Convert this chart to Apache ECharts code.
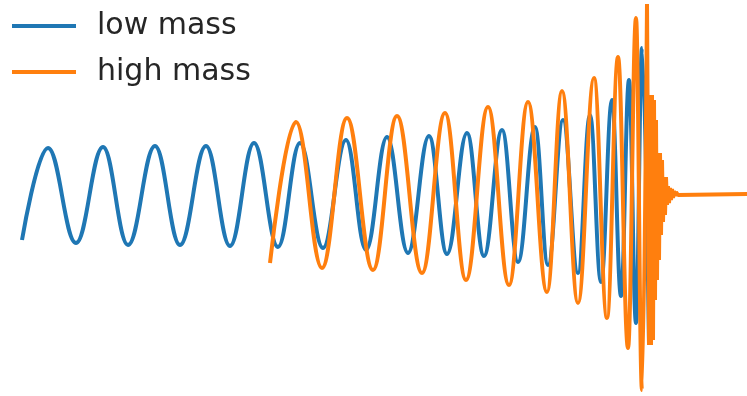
<!DOCTYPE html>
<html>
<head>
<meta charset="utf-8">
<script src="https://cdn.jsdelivr.net/npm/echarts@6/dist/echarts.min.js"></script>
<style>
html,body{margin:0;padding:0;background:#fff;}
#chart{width:747px;height:396px;}
</style>
</head>
<body>
<div id="chart"></div>
<script>
// Time (arbitrary units) and strain values (extrema of each cycle)
var lowMassTime = [0.22,0.48,0.76,1.03,1.28,1.55,1.80,2.06,2.30,2.54,2.78,3.00,3.23,3.46,3.66,3.87,4.08,4.29,4.47,4.67,4.84,5.02,5.18,5.35,5.48,5.63,5.78,5.90,6.01,6.12,6.21,6.29,6.36,6.42,6.49];
var lowMassStrain = [-0.46,0.46,-0.49,0.47,-0.51,0.48,-0.51,0.48,-0.52,0.51,-0.53,0.51,-0.54,0.54,-0.56,0.57,-0.59,0.58,-0.60,0.61,-0.62,0.64,-0.68,0.67,-0.71,0.74,-0.79,0.79,-0.88,0.94,-1.02,1.14,-1.29,1.46,-1.49];

var highMassTime = [2.70,2.96,3.22,3.47,3.73,3.97,4.22,4.45,4.66,4.88,5.09,5.28,5.47,5.62,5.78,5.94,6.07,6.18,6.28,6.36,6.42,6.47];
var highMassStrain = [-0.69,0.72,-0.74,0.76,-0.76,0.78,-0.79,0.81,-0.86,0.87,-0.91,0.92,-0.98,1.03,-1.09,1.16,-1.24,1.37,-1.54,1.76,-1.96,1.90];

var ringdownTime = [6.47,6.49,6.50,6.51,6.52,6.53,6.54,6.55,6.56,6.57,6.58,6.59,6.60,6.61,6.62,6.63,6.64,6.65,6.66,6.67,6.68,6.69,6.70,6.71,6.72,6.73,6.74,6.75,6.76,6.78,6.80,7.47];
var ringdownStrain = [1.90,-1.51,0.99,-1.51,0.99,-1.46,0.94,-1.06,0.74,-0.86,0.41,-0.66,0.41,-0.41,0.34,-0.28,0.17,-0.21,0.17,-0.11,0.08,-0.09,0.06,-0.06,0.05,-0.04,0.03,-0.02,0.02,-0.01,0.00,0.00];

var seriesNames = ['low mass', 'high mass'];

function pairs(xs, ys){ return xs.map(function(x,i){ return [x, ys[i]]; }); }

var blue = '#1f77b4', orange = '#ff7f0e';
var chart = echarts.init(document.getElementById('chart'), null, {renderer:'canvas'});
chart.setOption({
  animation: false,
  backgroundColor: '#ffffff',
  grid: {left: 0, right: 0, top: 0, bottom: 0},
  xAxis: {type:'value', min:0, max:7.47, show:false, splitLine:{show:false}},
  yAxis: {type:'value', min:-2.02, max:1.94, show:false, splitLine:{show:false}},
  legend: {
    data: seriesNames,
    orient: 'vertical',
    left: 12, top: 11,
    padding: 0,
    icon: 'rect',
    itemWidth: 64, itemHeight: 4,
    itemGap: 16,
    textStyle: {fontFamily: 'DejaVu Sans', fontSize: 30, color: '#262626', lineHeight: 30, padding: [0,0,0,16]}
  },
  series: [
    {name: seriesNames[0], type:'line', data: pairs(lowMassTime, lowMassStrain), smooth: 0.4, smoothMonotone:'x',
     showSymbol:false, symbol:'none', lineStyle:{color: blue, width:4}, itemStyle:{color: blue}, z:2},
    {name: seriesNames[1], type:'line', data: pairs(highMassTime, highMassStrain), smooth: 0.4, smoothMonotone:'x',
     showSymbol:false, symbol:'none', lineStyle:{color: orange, width:4}, itemStyle:{color: orange}, z:3},
    {name: seriesNames[1], type:'line', data: pairs(ringdownTime, ringdownStrain), smooth: false,
     showSymbol:false, symbol:'none', lineStyle:{color: orange, width:4}, itemStyle:{color: orange}, z:3}
  ]
});
</script>
</body>
</html>
